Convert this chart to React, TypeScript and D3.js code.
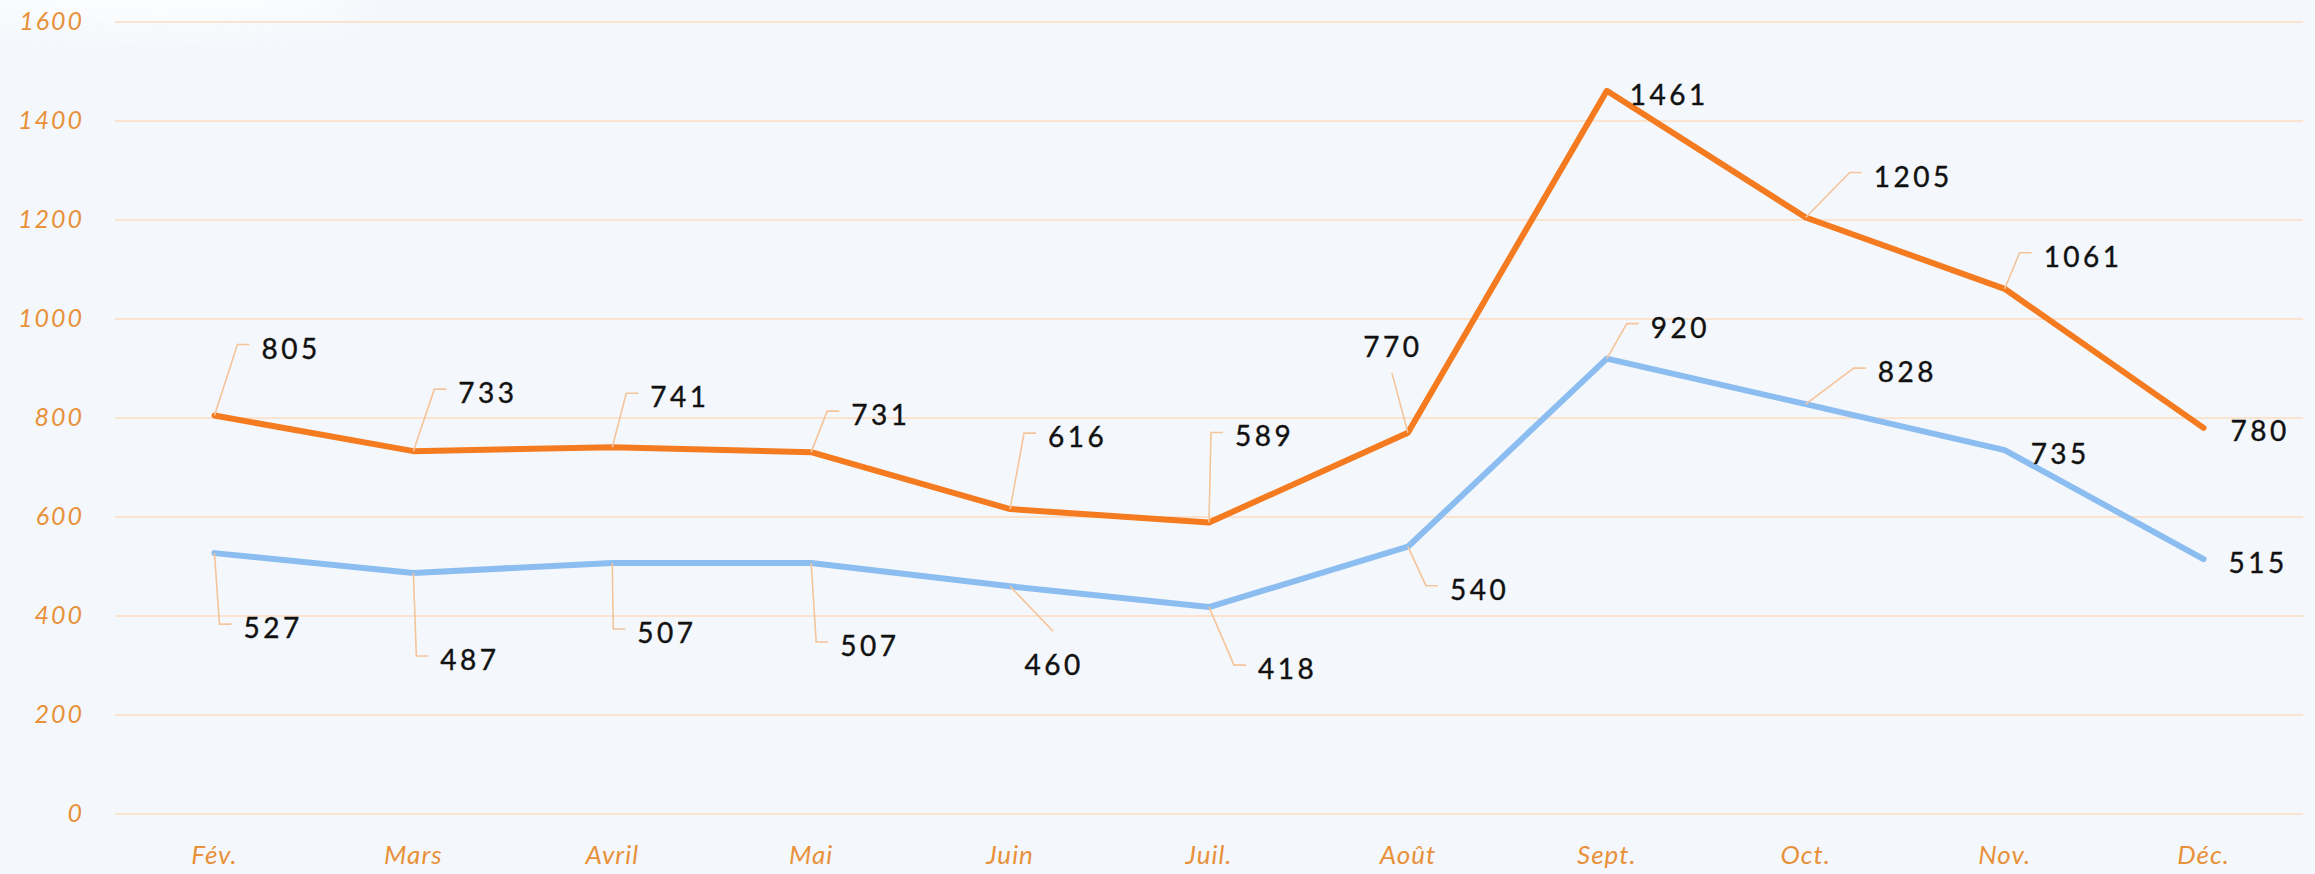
import React from "react";
import * as d3 from "d3";

// chart data
const months = ["Fév.", "Mars", "Avril", "Mai", "Juin", "Juil.", "Août", "Sept.", "Oct.", "Nov.", "Déc."];
const orangeValues = [805, 733, 741, 731, 616, 589, 770, 1461, 1205, 1061, 780];
const blueValues = [527, 487, 507, 507, 460, 418, 540, 920, 828, 735, 515];
const yTicks = [0, 200, 400, 600, 800, 1000, 1200, 1400, 1600];

// label placement relative to each point (text left / centre y)
type LabelPos = { dx: number; dy: number; kind: "elbow" | "none" | "line"; ex?: number; ey?: number };

const orangeLabelPos: LabelPos[] = [
  { dx: 47, dy: -68, kind: "elbow" },
  { dx: 45, dy: -59, kind: "elbow" },
  { dx: 38, dy: -51, kind: "elbow" },
  { dx: 40, dy: -38, kind: "elbow" },
  { dx: 38, dy: -73, kind: "elbow" },
  { dx: 26, dy: -87, kind: "elbow" },
  { dx: -15, dy: -87, kind: "line", ex: -16, ey: -60 },
  { dx: 23, dy: 3, kind: "none" },
  { dx: 68, dy: -42, kind: "elbow" },
  { dx: 39, dy: -33, kind: "elbow" },
  { dx: 27, dy: 2, kind: "none" },
];

const blueLabelPos: LabelPos[] = [
  { dx: 29, dy: 74, kind: "elbow" },
  { dx: 27, dy: 86, kind: "elbow" },
  { dx: 25, dy: 69, kind: "elbow" },
  { dx: 29, dy: 82, kind: "elbow" },
  { dx: 44, dy: 78, kind: "line", ex: 43, ey: 45 },
  { dx: 49, dy: 61, kind: "elbow" },
  { dx: 42, dy: 42, kind: "elbow" },
  { dx: 44, dy: -32, kind: "elbow" },
  { dx: 72, dy: -33, kind: "elbow" },
  { dx: 26, dy: 3, kind: "none" },
  { dx: 25, dy: 3, kind: "none" },
];

const W = 2315;
const H = 874;
const ORANGE = "#F47B20";
const BLUE = "#8CBDF0";
const AXIS = "#E8913A";
const GRID = "#FAE3CF";
const LEADER = "#F5C49A";
const FONT = "Lato, 'Noto Sans', sans-serif";

export default function App() {
  document.body.style.margin = "0";
  document.body.style.background = "#F4F8FC";

  const x = d3.scalePoint<string>().domain(months).range([115, 2303]).padding(0.5);
  const y = d3.scaleLinear().domain([0, 1600]).range([814, 22]);

  const line = d3
    .line<number>()
    .x((_, i) => x(months[i]) as number)
    .y((d) => y(d));

  const renderLabels = (values: number[], pos: LabelPos[], key: string) =>
    values.map((v, i) => {
      const px = x(months[i]) as number;
      const py = y(v);
      const p = pos[i];
      const tx = px + p.dx;
      const ty = py + p.dy;
      let leader: string | null = null;
      if (p.kind === "elbow") {
        leader = `M${px},${py}L${tx - 24},${ty - 3}L${tx - 12},${ty - 3}`;
      } else if (p.kind === "line") {
        leader = `M${px},${py}L${px + (p.ex as number)},${py + (p.ey as number)}`;
      }
      return (
        <g key={key + i}>
          {leader && <path d={leader} fill="none" stroke={LEADER} strokeWidth={1.6} />}
          <text
            x={tx}
            y={ty}
            textAnchor={p.kind === "line" ? "middle" : "start"}
            dominantBaseline="central"
            fontFamily={FONT}
            fontSize={28}
            letterSpacing={3.5}
            stroke="#111"
            strokeWidth={0.4}
            fill="#111"
          >
            {v}
          </text>
        </g>
      );
    });

  return (
    <svg width={W} height={H} style={{ display: "block" }}>
      <defs>
        <filter id="blur" x="-50%" y="-50%" width="200%" height="200%">
          <feGaussianBlur stdDeviation="18" />
        </filter>
      </defs>
      <rect width={W} height={H} fill="#F4F8FC" />
      <ellipse cx={160} cy={0} rx={200} ry={22} fill="#ffffff" opacity={0.8} filter="url(#blur)" />

      {yTicks.map((t) => (
        <g key={t}>
          <line x1={115} x2={2303} y1={y(t)} y2={y(t)} stroke={GRID} strokeWidth={2} />
          <text
            x={84}
            y={y(t) - 2}
            textAnchor="end"
            dominantBaseline="central"
            fontFamily={FONT}
            fontStyle="italic"
            fontSize={25}
            letterSpacing={2}
            fill={AXIS}
          >
            {t}
          </text>
        </g>
      ))}

      {months.map((m) => (
        <text
          key={m}
          x={x(m) as number}
          y={864}
          textAnchor="middle"
          fontFamily={FONT}
          fontStyle="italic"
          fontSize={26}
          letterSpacing={1}
          fill={AXIS}
        >
          {m}
        </text>
      ))}

      <path d={line(blueValues) as string} fill="none" stroke={BLUE} strokeWidth={6} strokeLinecap="round" strokeLinejoin="round" />
      <path d={line(orangeValues) as string} fill="none" stroke={ORANGE} strokeWidth={6} strokeLinecap="round" strokeLinejoin="round" />

      {renderLabels(orangeValues, orangeLabelPos, "o")}
      {renderLabels(blueValues, blueLabelPos, "b")}
    </svg>
  );
}
